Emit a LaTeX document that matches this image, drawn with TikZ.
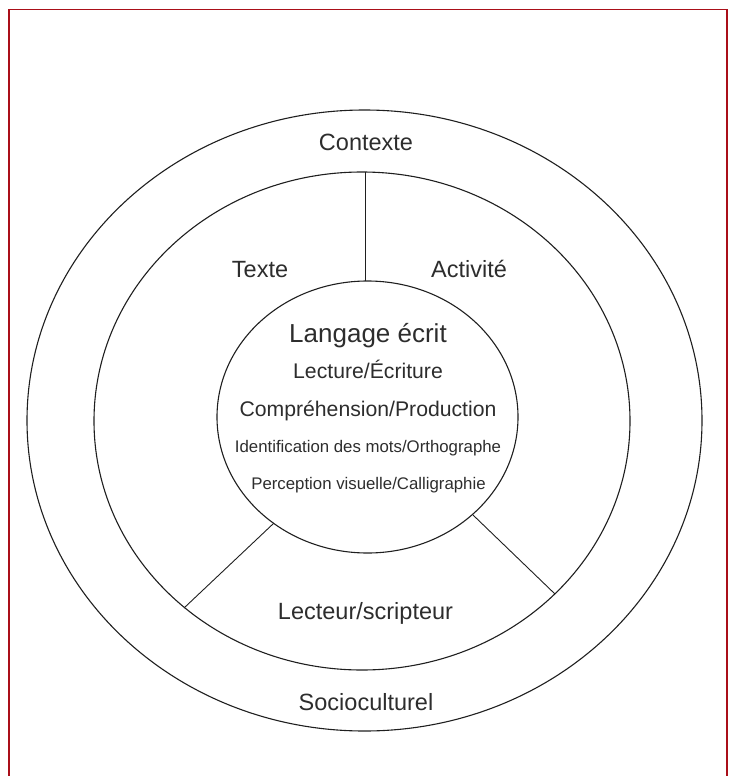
\documentclass[tikz,border=0pt]{standalone}
\usepackage{fontspec}
\setmainfont{Liberation Sans}
\usetikzlibrary{shapes.geometric}
\definecolor{framered}{RGB}{170,15,25}
\definecolor{txt}{RGB}{45,45,45}
\begin{document}
\begin{tikzpicture}[x=1pt,y=-1pt,
  ring/.style={draw=black!88, line width=1.1pt, ellipse, inner sep=0pt, outer sep=0pt},
  divider/.style={draw=black!88, line width=0.9pt},
  lab/.style={text=txt, inner sep=0pt, anchor=base},
  big/.style={lab, font=\fontsize{23.5}{26}\selectfont},
  title/.style={lab, font=\fontsize{26}{30}\selectfont},
  mid/.style={lab, font=\fontsize{21.2}{24}\selectfont},
  small/.style={lab, font=\fontsize{16.8}{20}\selectfont}]
\useasboundingbox (0,0) rectangle (733,776);
% frame
\draw[framered, line width=1.6pt] (8.8,777) -- (8.8,9.7) -- (727.2,9.7) -- (727.2,777);
% rings
\node[ring, minimum width=675pt, minimum height=621pt] (outer) at (364.5,420.5) {};
\node[ring, minimum width=536pt, minimum height=498pt] (middle) at (362,421) {};
\node[ring, minimum width=301pt, minimum height=272pt] (inner) at (367.5,417) {};
% divider end points
\coordinate (vtop) at (365,172);
\coordinate (vbot) at (365,281);
\coordinate (lin) at (274,523);
\coordinate (lout) at (184,608);
\coordinate (rin) at (473,515);
\coordinate (rout) at (555,594);
\draw[divider] (vtop) -- (vbot);
\draw[divider] (lin) -- (lout);
\draw[divider] (rin) -- (rout);
% labels
\node[big] (contexte) at (366,150) {Contexte};
\node[big] (texte) at (260,277) {Texte};
\node[big] (activite) at (469,277) {Activité};
\node[big] (lecteur) at (365.5,619) {Lecteur/scripteur};
\node[big] (socio) at (366,710) {Socioculturel};
\node[title] (langage) at (368,342.7) {Langage écrit};
\node[mid] (lecture) at (368,378) {Lecture/Écriture};
\node[mid] (compr) at (368,416) {Compréhension/Production};
\node[small] (ident) at (368,452.7) {Identification des mots/Orthographe};
\node[small] (percep) at (368.5,489) {Perception visuelle/Calligraphie};
\end{tikzpicture}
\end{document}
